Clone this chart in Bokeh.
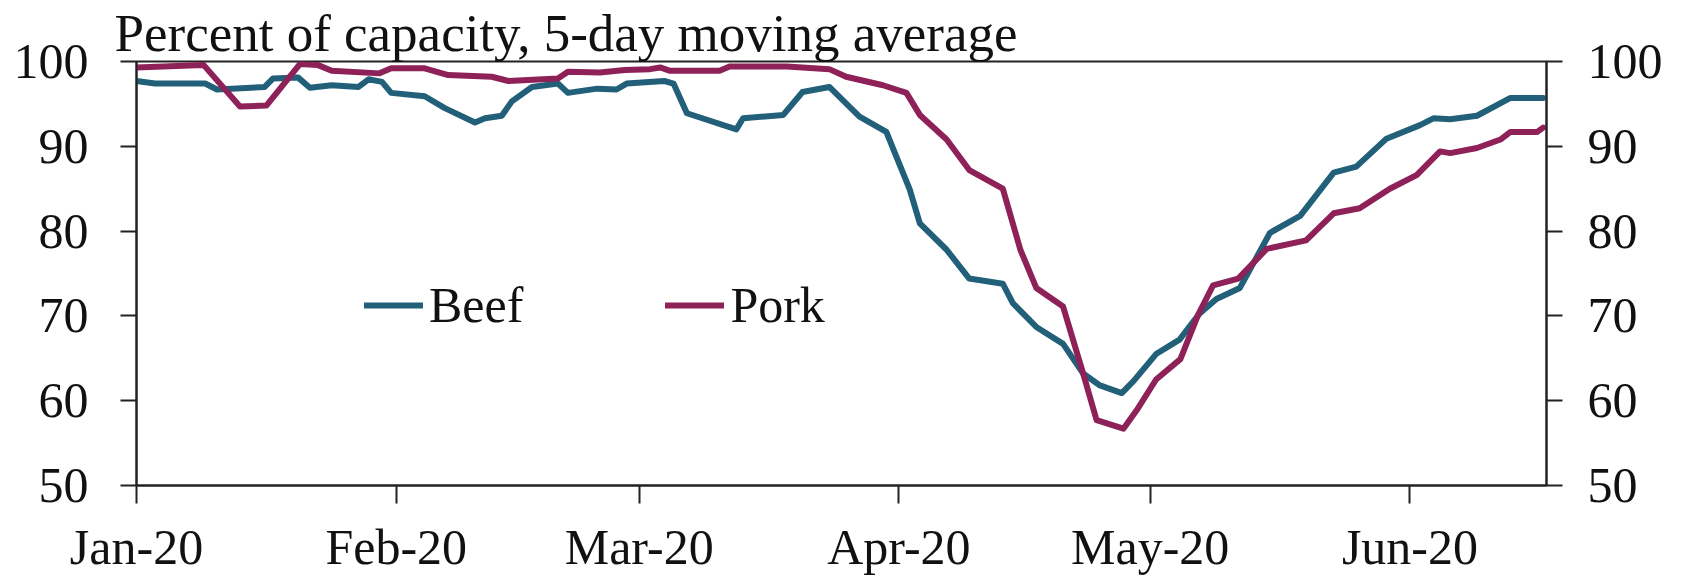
import pandas as pd
from bokeh.plotting import figure
from bokeh.models import (LinearAxis, FixedTicker, DatetimeTickFormatter, Legend,
                          LegendItem, Range1d)
from bokeh.embed import file_html
from bokeh.resources import INLINE

# ---------------- data ----------------
START = "2020-01-01"          # day 0 of the day offsets below
END_DAY = 168.3               # right edge of the plot, days after START

beef_day = [0, 2.2, 8.2, 9.6, 15.3, 16.3, 19.3, 20.7, 23.3, 26.5, 27.7, 29.3, 30.4,
            34.4, 36.8, 40.4, 41.6, 43.6, 44.8, 47.2, 50.3, 51.5, 55.0, 57.3, 58.5,
            63.0, 64.1, 65.7, 71.6, 72.4, 77.2, 79.5, 82.7, 86.3, 89.5, 92.3, 93.5,
            96.7, 99.4, 103.4, 104.6, 107.4, 110.6, 113.0, 115.0, 117.6, 119.0,
            121.7, 124.5, 126.9, 128.9, 131.7, 135.3, 138.9, 142.9, 145.6, 149.2,
            153.2, 154.8, 156.8, 160.0, 164.0, 167.9]
beef_pct = [97.7, 97.4, 97.4, 96.7, 97.0, 98.0, 98.1, 96.9, 97.2, 97.0, 97.9, 97.6, 96.3,
            95.9, 94.5, 92.8, 93.3, 93.6, 95.3, 97.0, 97.4, 96.3, 96.8, 96.7, 97.4,
            97.7, 97.4, 93.9, 92.0, 93.3, 93.7, 96.4, 97.0, 93.5, 91.7, 84.9, 80.9,
            77.8, 74.4, 73.8, 71.5, 68.7, 66.7, 63.2, 61.8, 60.9, 62.3,
            65.5, 67.2, 70.3, 72.0, 73.3, 79.8, 81.8, 86.9, 87.6, 90.9,
            92.5, 93.3, 93.2, 93.6, 95.7, 95.7]

pork_day = [0, 8.0, 12.35, 15.5, 19.5, 21.6, 23.3, 29.0, 30.4, 34.4, 37.2, 42.4, 44.4,
            50.3, 51.5, 55.3, 58.3, 61.3, 62.5, 63.7, 69.6, 70.8, 77.6, 82.7, 84.7,
            89.1, 91.9, 93.5, 96.7, 99.4, 103.4, 105.5, 107.4, 110.6, 113.0, 114.6,
            117.8, 119.4, 121.7, 124.6, 126.7, 128.5, 131.5, 134.9, 139.6, 142.9,
            146.0, 149.6, 152.8, 155.6, 156.8, 160.0, 162.8, 164.0, 167.2, 167.9]
pork_pct = [99.3, 99.6, 94.7, 94.8, 99.7, 99.6, 98.9, 98.6, 99.2, 99.2, 98.4, 98.2, 97.7,
            98.0, 98.8, 98.7, 99.0, 99.1, 99.3, 98.9, 98.9, 99.4, 99.4, 99.1, 98.2,
            97.2, 96.3, 93.7, 90.8, 87.2, 85.0, 77.8, 73.3, 71.1, 63.2, 57.7,
            56.7, 58.9, 62.5, 64.9, 70.1, 73.6, 74.4, 77.9, 78.9, 82.1,
            82.7, 85.0, 86.6, 89.4, 89.2, 89.8, 90.8, 91.7, 91.7, 92.2]

month_ticks = ["2020-01-01", "2020-02-01", "2020-03-01", "2020-04-01",
               "2020-05-01", "2020-06-01"]
y_ticks = [50, 60, 70, 80, 90, 100]
series_names = ["Beef", "Pork"]
title_text = "Percent of capacity, 5-day moving average"

# ---------------- styling ----------------
BEEF_COLOR = "#22607A"
PORK_COLOR = "#8E2158"
FONT = "Liberation Serif"
AXIS_COLOR = "#222222"
TEXT_COLOR = "#111111"

start = pd.Timestamp(START)
beef_x = start + pd.to_timedelta(beef_day, unit="D")
pork_x = start + pd.to_timedelta(pork_day, unit="D")

p = figure(width=1680, height=577, output_backend="svg", toolbar_location=None,
           x_axis_type="datetime",
           x_range=Range1d(start, start + pd.to_timedelta(END_DAY, unit="D")),
           y_range=Range1d(50, 100),
           min_border_left=136, min_border_right=134, min_border_top=61,
           min_border_bottom=92)
p.background_fill_color = "white"
p.border_fill_color = "white"
p.outline_line_color = AXIS_COLOR
p.outline_line_width = 2
p.xgrid.visible = False
p.ygrid.visible = False

# title sitting on the top edge of the frame
p.title.text = title_text
p.title.align = "left"
p.title.offset = -22
p.title.standoff = 0
p.title.text_font = FONT
p.title.text_font_size = "53px"
p.title.text_font_style = "normal"
p.title.text_color = TEXT_COLOR

r_beef = p.line(beef_x, beef_pct, line_color=BEEF_COLOR, line_width=6,
                line_join="round", line_cap="round")
r_pork = p.line(pork_x, pork_pct, line_color=PORK_COLOR, line_width=6,
                line_join="round", line_cap="round")

def style_axis(ax, tick_out, standoff):
    ax.axis_line_color = AXIS_COLOR
    ax.axis_line_width = 2
    ax.major_tick_line_color = AXIS_COLOR
    ax.major_tick_line_width = 2
    ax.major_tick_in = 0
    ax.major_tick_out = tick_out
    ax.minor_tick_line_color = None
    ax.major_label_text_font = FONT
    ax.major_label_text_font_size = "50px"
    ax.major_label_text_color = TEXT_COLOR
    ax.major_label_standoff = standoff

# x axis
xax = p.xaxis[0]
xax.ticker = FixedTicker(ticks=[pd.Timestamp(t).value / 1e6 for t in month_ticks])
fmt = "%b-%y"
xax.formatter = DatetimeTickFormatter(
    microseconds=fmt, milliseconds=fmt, seconds=fmt, minsec=fmt, minutes=fmt,
    hourmin=fmt, hours=fmt, days=fmt, months=fmt, years=fmt)
style_axis(xax, 18, 15)

# left y axis
yax = p.yaxis[0]
yax.ticker = FixedTicker(ticks=y_ticks)
style_axis(yax, 16, 32)

# right y axis
rax = LinearAxis(ticker=FixedTicker(ticks=y_ticks))
style_axis(rax, 16, 25)
p.add_layout(rax, "right")

# legend
legend = Legend(items=[LegendItem(label=series_names[0], renderers=[r_beef]),
                       LegendItem(label=series_names[1], renderers=[r_pork])],
                location=(228, 151), orientation="horizontal",
                glyph_width=59, glyph_height=30, label_standoff=6, spacing=142,
                padding=0, margin=0, border_line_alpha=0, background_fill_alpha=0,
                label_text_font=FONT, label_text_font_size="50px",
                label_text_color=TEXT_COLOR)
p.add_layout(legend)

open("out.html", "w").write(file_html(p, INLINE))
